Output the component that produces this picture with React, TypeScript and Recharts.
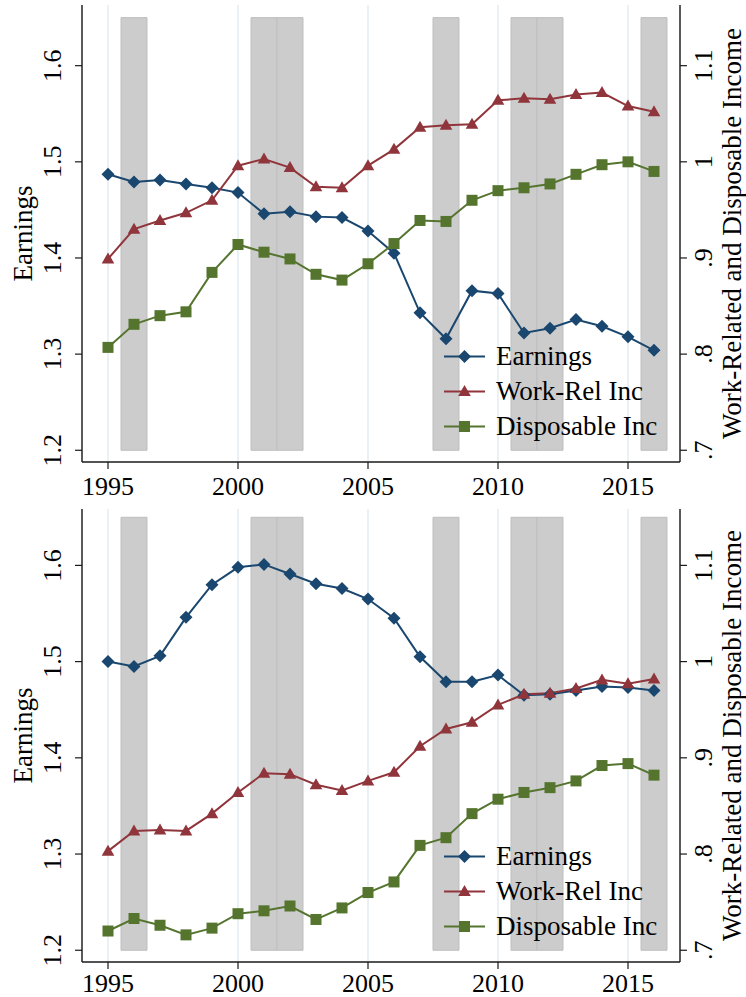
import { CartesianGrid, Legend, Line, LineChart, ReferenceArea, XAxis, YAxis } from 'recharts';

const years = [
  1995, 1996, 1997, 1998, 1999, 2000, 2001, 2002, 2003, 2004, 2005,
  2006, 2007, 2008, 2009, 2010, 2011, 2012, 2013, 2014, 2015, 2016,
];

// top panel
const earningsTop = [
  1.487, 1.479, 1.481, 1.477, 1.473, 1.468, 1.446, 1.448, 1.443, 1.442, 1.428,
  1.405, 1.343, 1.316, 1.366, 1.363, 1.322, 1.327, 1.336, 1.329, 1.318, 1.304,
];
const workRelTop = [
  0.899, 0.93, 0.939, 0.947, 0.96, 0.996, 1.003, 0.994, 0.974, 0.973, 0.996,
  1.013, 1.036, 1.038, 1.039, 1.064, 1.066, 1.065, 1.07, 1.072, 1.058, 1.052,
];
const disposableTop = [
  0.807, 0.831, 0.84, 0.844, 0.885, 0.914, 0.906, 0.899, 0.883, 0.877, 0.894,
  0.915, 0.939, 0.938, 0.96, 0.97, 0.973, 0.977, 0.987, 0.997, 1.0, 0.99,
];

// bottom panel
const earningsBottom = [
  1.5, 1.495, 1.506, 1.546, 1.58, 1.598, 1.601, 1.591, 1.581, 1.576, 1.565,
  1.545, 1.505, 1.479, 1.479, 1.486, 1.465, 1.466, 1.47, 1.474, 1.473, 1.47,
];
const workRelBottom = [
  0.803, 0.824, 0.825, 0.824, 0.842, 0.864, 0.884, 0.883, 0.872, 0.866, 0.876,
  0.885, 0.912, 0.93, 0.937, 0.955, 0.966, 0.967, 0.972, 0.981, 0.977, 0.982,
];
const disposableBottom = [
  0.72, 0.733, 0.726, 0.716, 0.723, 0.738, 0.741, 0.746, 0.732, 0.744, 0.76,
  0.771, 0.809, 0.817, 0.842, 0.857, 0.864, 0.869, 0.876, 0.892, 0.894, 0.882,
];

const recessions: [number, number][] = [
  [1995.5, 1996.5],
  [2000.5, 2001.5],
  [2001.5, 2002.5],
  [2007.5, 2008.5],
  [2010.5, 2011.5],
  [2011.5, 2012.5],
  [2015.5, 2016.5],
];
const bandRange = [1.2, 1.65];

const yearTicks = [1995, 2000, 2005, 2010, 2015];
const earningsTicks = [1.2, 1.3, 1.4, 1.5, 1.6];
const incomeTicks = [0.7, 0.8, 0.9, 1, 1.1];
const incomeTickLabels = ['.7', '.8', '.9', '1', '1.1'];
const seriesNames = ['Earnings', 'Work-Rel Inc', 'Disposable Inc'];

const font = '"Liberation Serif", "Times New Roman", serif';
const navy = '#1a476f';
const maroon = '#90353b';
const green = '#55752f';
const axisColor = '#1a1a1a';

function Marker({ kind, cx, cy, color }: { kind: number; cx: number; cy: number; color: string }) {
  if (kind === 0) {
    const r = 6.5;
    return <path d={`M${cx},${cy - r}L${cx + r},${cy}L${cx},${cy + r}L${cx - r},${cy}Z`} fill={color} />;
  }
  if (kind === 1) {
    return <path d={`M${cx},${cy - 6.5}L${cx + 6.3},${cy + 4.5}L${cx - 6.3},${cy + 4.5}Z`} fill={color} />;
  }
  return <rect x={cx - 5.5} y={cy - 5.5} width={11} height={11} fill={color} />;
}

const dotFor = (kind: number, color: string) => (p: any) =>
  <Marker key={`${kind}-${p.index}`} kind={kind} cx={p.cx} cy={p.cy} color={color} />;

function LegendBox() {
  const colors = [navy, maroon, green];
  return (
    <div style={{ fontFamily: font, fontSize: 27, color: '#000' }}>
      {seriesNames.map((name, i) => (
        <div key={name} style={{ display: 'flex', alignItems: 'center', height: 35 }}>
          <svg width={55} height={35} style={{ display: 'block' }}>
            <line x1={3} x2={44} y1={17.5} y2={17.5} stroke={colors[i]} strokeWidth={2} />
            <Marker kind={i} cx={23.5} cy={17.5} color={colors[i]} />
          </svg>
          <span style={{ whiteSpace: 'nowrap' }}>{name}</span>
        </div>
      ))}
    </div>
  );
}

function Panel({
  earnings,
  workRel,
  disposable,
  top,
  height,
  marginTop,
  axisHeight,
  labelOffset,
  earningsMax,
}: {
  earnings: number[];
  workRel: number[];
  disposable: number[];
  top: number;
  height: number;
  marginTop: number;
  axisHeight: number;
  labelOffset: number;
  earningsMax: number;
}) {
  const data = years.map((year, i) => ({
    year,
    earnings: earnings[i],
    workRel: workRel[i],
    disposable: disposable[i],
  }));
  const earningsMin = 1.1878;

  return (
    <div style={{ position: 'absolute', left: 0, top }}>
      <LineChart width={746} height={height} data={data} margin={{ top: marginTop, right: 0, bottom: 0, left: 0 }}>
        <CartesianGrid horizontal={false} stroke="#e2ecf1" strokeWidth={1.5} yAxisId="left" />
        <XAxis
          dataKey="year"
          type="number"
          domain={[1994, 2017]}
          ticks={yearTicks}
          height={axisHeight}
          tickSize={7}
          axisLine={{ stroke: axisColor, strokeWidth: 1.4 }}
          tickLine={{ stroke: axisColor, strokeWidth: 1.2 }}
          tick={(p: any) => (
            <text x={p.x} y={p.y + labelOffset} textAnchor="middle" fontFamily={font} fontSize={26} fill="#000">
              {p.payload.value}
            </text>
          )}
        />
        <YAxis
          yAxisId="left"
          orientation="left"
          width={82}
          domain={[earningsMin, earningsMax]}
          ticks={earningsTicks}
          allowDataOverflow
          tickSize={7}
          axisLine={{ stroke: axisColor, strokeWidth: 1.4 }}
          tickLine={{ stroke: axisColor, strokeWidth: 1.2 }}
          tick={(p: any) => (
            <text
              x={53}
              y={p.y}
              transform={`rotate(-90 53 ${p.y})`}
              textAnchor="middle"
              dominantBaseline="central"
              fontFamily={font}
              fontSize={26}
              fill="#000"
            >
              {p.payload.value.toFixed(1)}
            </text>
          )}
          label={{
            content: ({ viewBox }: any) => {
              const cy = viewBox.y + viewBox.height / 2;
              return (
                <text
                  x={23}
                  y={cy}
                  transform={`rotate(-90 23 ${cy})`}
                  textAnchor="middle"
                  dominantBaseline="central"
                  fontFamily={font}
                  fontSize={27}
                  fill="#000"
                >
                  Earnings
                </text>
              );
            },
          }}
        />
        <YAxis
          yAxisId="right"
          orientation="right"
          width={66}
          domain={[earningsMin - 0.5, earningsMax - 0.5]}
          ticks={incomeTicks}
          allowDataOverflow
          tickSize={7}
          axisLine={{ stroke: axisColor, strokeWidth: 1.4 }}
          tickLine={{ stroke: axisColor, strokeWidth: 1.2 }}
          tick={(p: any) => (
            <text
              x={704}
              y={p.y}
              transform={`rotate(-90 704 ${p.y})`}
              textAnchor="middle"
              dominantBaseline="central"
              fontFamily={font}
              fontSize={26}
              fill="#000"
            >
              {incomeTickLabels[incomeTicks.indexOf(p.payload.value)]}
            </text>
          )}
          label={{
            content: ({ viewBox }: any) => {
              const cy = viewBox.y + viewBox.height / 2;
              return (
                <text
                  x={732}
                  y={cy}
                  transform={`rotate(-90 732 ${cy})`}
                  textAnchor="middle"
                  dominantBaseline="central"
                  fontFamily={font}
                  fontSize={27}
                  fill="#000"
                >
                  Work-Related and Disposable Income
                </text>
              );
            },
          }}
        />
        {recessions.map(([x1, x2], i) => (
          <ReferenceArea
            key={i}
            yAxisId="left"
            x1={x1}
            x2={x2}
            y1={bandRange[0]}
            y2={bandRange[1]}
            fill="#cccccc"
            fillOpacity={1}
            stroke="#bfbfbf"
            strokeWidth={1}
            ifOverflow="visible"
          />
        ))}
        <Line
          yAxisId="left"
          dataKey="earnings"
          name={seriesNames[0]}
          stroke={navy}
          strokeWidth={2}
          dot={dotFor(0, navy)}
          activeDot={false}
          isAnimationActive={false}
        />
        <Line
          yAxisId="right"
          dataKey="workRel"
          name={seriesNames[1]}
          stroke={maroon}
          strokeWidth={2}
          dot={dotFor(1, maroon)}
          activeDot={false}
          isAnimationActive={false}
        />
        <Line
          yAxisId="right"
          dataKey="disposable"
          name={seriesNames[2]}
          stroke={green}
          strokeWidth={2}
          dot={dotFor(2, green)}
          activeDot={false}
          isAnimationActive={false}
        />
        <Legend
          layout="horizontal"
          align="center"
          verticalAlign="middle"
          content={() => <LegendBox />}
          wrapperStyle={{ left: 441, top: 338.5, width: 260 }}
        />
      </LineChart>
    </div>
  );
}

export default function App() {
  return (
    <div style={{ position: 'absolute', left: 0, top: 0, width: 746, height: 997, overflow: 'hidden', background: '#fff' }}>
      <Panel
        earnings={earningsTop}
        workRel={workRelTop}
        disposable={disposableTop}
        top={0}
        height={500}
        marginTop={5}
        axisHeight={38}
        labelOffset={24}
        earningsMax={1.6631}
      />
      <Panel
        earnings={earningsBottom}
        workRel={workRelBottom}
        disposable={disposableBottom}
        top={500}
        height={497}
        marginTop={9}
        axisHeight={35}
        labelOffset={21}
        earningsMax={1.6586}
      />
    </div>
  );
}
